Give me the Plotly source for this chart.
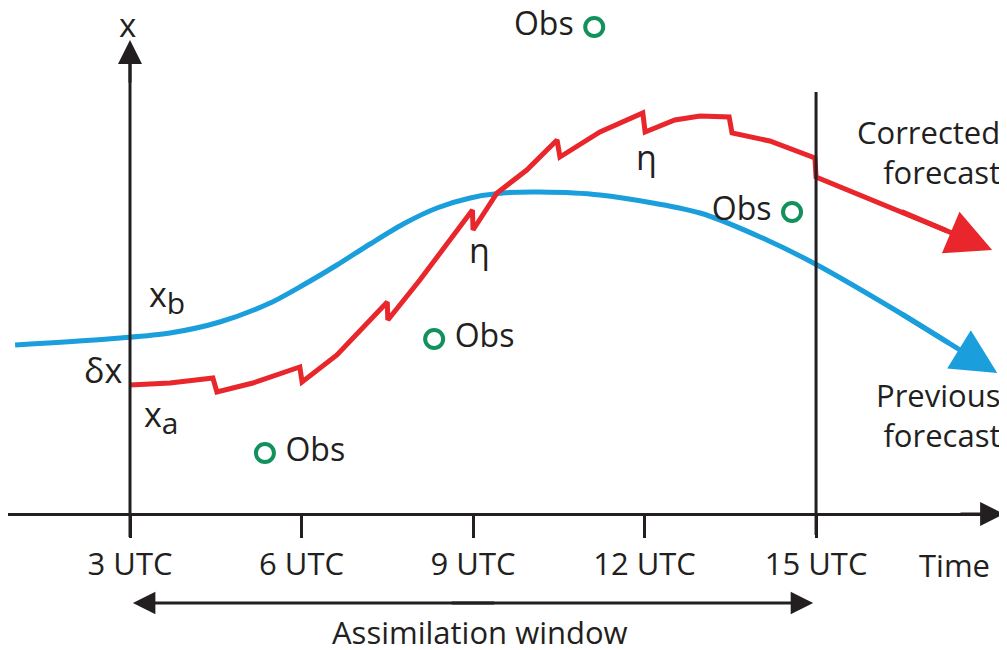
import plotly.graph_objects as go

colors = {
    'ink': '#231f20',
    'red': '#e8262b',
    'blue': '#1b9fdc',
    'green': '#12915c',
    'white': '#ffffff',
}
FONT = 'Open Sans, Noto Sans, sans-serif'

# time in UTC hours, state in arbitrary units
tick_hours = [3, 6, 9, 12, 15]
tick_labels = ['3 UTC', '6 UTC', '9 UTC', '12 UTC', '15 UTC']

prev_t = [0.99, 2.83, 3.70, 4.57, 5.45, 6.03, 6.62, 7.20, 7.78, 8.37, 8.95, 9.52, 10.17,
          11.22, 12.97, 14.14, 15.02, 16.47]
prev_x = [1.69, 1.76, 1.81, 1.92, 2.11, 2.29, 2.49, 2.70, 2.90, 3.06, 3.16, 3.21, 3.22,
          3.19, 3.01, 2.74, 2.49, 2.01]
prev_tip = (18.17, 1.41)

corr_t = [3.0, 3.70, 4.45, 4.52, 5.15, 5.97, 6.01, 6.62, 7.50, 7.51, 8.07, 8.99,
          9.0, 9.42, 9.94, 10.47, 10.52, 11.22, 11.97, 12.01, 12.53, 12.97, 13.48,
          13.53, 14.19, 14.98, 15.0, 16.47]
corr_x = [1.29, 1.31, 1.36, 1.22, 1.31, 1.47, 1.32, 1.59, 2.12, 1.94, 2.34, 3.04,
          2.84, 3.21, 3.44, 3.74, 3.57, 3.82, 4.01, 3.82, 3.94, 3.98, 3.97,
          3.81, 3.73, 3.56, 3.37, 3.03]
corr_tip = (18.08, 2.64)

obs_t = [5.36, 8.32, 11.12, 14.58]
obs_x = [0.61, 1.75, 4.87, 3.02]
obs_side = ['middle right', 'middle right', 'middle left', 'middle left']

t_range = [0.866, 18.34]
x_range = [-1.36, 5.06]


def toward(t, x, tip, frac):
    return t + frac * (tip[0] - t), x + frac * (tip[1] - x)


def main():
    fig = go.Figure()

    # carry each line part way into its arrow head so the head joins cleanly
    bt, bx = toward(prev_t[-1], prev_x[-1], prev_tip, 0.5)
    rt, rx = toward(corr_t[-1], corr_x[-1], corr_tip, 0.5)

    fig.add_trace(go.Scatter(
        x=prev_t + [bt], y=prev_x + [bx], mode='lines',
        line=dict(color=colors['blue'], width=5, shape='spline', smoothing=0.8),
    ))
    fig.add_trace(go.Scatter(
        x=corr_t + [rt], y=corr_x + [rx], mode='lines',
        line=dict(color=colors['red'], width=5),
    ))
    obs_text = ['\u00a0Obs' if s.endswith('right') else 'Obs\u00a0' for s in obs_side]
    fig.add_trace(go.Scatter(
        x=obs_t, y=obs_x, mode='markers+text',
        text=obs_text, textposition=obs_side,
        textfont=dict(family=FONT, size=32, color=colors['ink']),
        marker=dict(symbol='circle-open', size=18, color=colors['green'], line=dict(width=4)),
    ))

    shapes = [
        # vertical state axis at 3 UTC
        dict(type='line', x0=3, x1=3, y0=-0.23, y1=4.5, line=dict(color=colors['ink'], width=3)),
        # end of window at 15 UTC
        dict(type='line', x0=15, x1=15, y0=-0.21, y1=4.22, line=dict(color=colors['ink'], width=3)),
    ]

    arrows = [
        # forecast heads
        dict(x=prev_tip[0], y=prev_tip[1], ax=prev_t[-1], ay=prev_x[-1],
             arrowcolor=colors['blue'], arrowwidth=5, arrowsize=1.8),
        dict(x=corr_tip[0], y=corr_tip[1], ax=corr_t[-1], ay=corr_x[-1],
             arrowcolor=colors['red'], arrowwidth=5, arrowsize=1.8),
        # axes heads
        dict(x=t_range[1] - 0.05, y=0, ax=17.5, ay=0, arrowcolor=colors['ink'], arrowwidth=3, arrowsize=1.6),
        dict(x=3, y=4.74, ax=3, ay=4.3, arrowcolor=colors['ink'], arrowwidth=3, arrowsize=1.6),
        # assimilation window (the two halves overlap in the middle)
        dict(x=3.05, y=-0.89, ax=9.4, ay=-0.89, arrowcolor=colors['ink'], arrowwidth=3, arrowsize=1.5),
        dict(x=14.95, y=-0.89, ax=8.6, ay=-0.89, arrowcolor=colors['ink'], arrowwidth=3, arrowsize=1.5),
    ]
    annotations = []
    for a in arrows:
        a.update(text='', showarrow=True, arrowhead=2, axref='x', ayref='y', xref='x', yref='y')
        annotations.append(a)

    def label(t, x, txt, size=34, xanchor='center', align='center'):
        annotations.append(dict(
            x=t, y=x, text=txt, showarrow=False, xanchor=xanchor, yanchor='middle', align=align,
            font=dict(family=FONT, size=size, color=colors['ink'])
        ))

    sub = '<sub><span style="font-size:30px">{}</span></sub>'
    label(2.95, 4.90, 'x', size=33)
    label(3.64, 2.17, 'x' + sub.format('b'))
    label(2.53, 1.44, 'δx')
    label(3.55, 0.97, 'x' + sub.format('a'))
    label(9.12, 2.64, 'η')
    label(12.04, 3.57, 'η')
    label(18.25, 3.62, 'Corrected<br>forecast', size=31, xanchor='right', align='right')
    label(18.25, 0.99, 'Previous<br>forecast', size=31, xanchor='right', align='right')
    label(17.43, -0.51, 'Time', size=31)
    label(9.12, -1.18, 'Assimilation window', size=31)

    axis_pos = (0 - x_range[0]) / (x_range[1] - x_range[0])

    fig.update_layout(
        width=999, height=642,
        paper_bgcolor=colors['white'], plot_bgcolor=colors['white'],
        showlegend=False,
        margin=dict(l=0, r=0, t=0, b=0),
        shapes=shapes,
        annotations=annotations,
        xaxis=dict(
            range=t_range, showgrid=False, zeroline=False,
            showline=True, linecolor=colors['ink'], linewidth=3,
            ticks='outside', ticklen=22, tickwidth=3, tickcolor=colors['ink'],
            tickvals=tick_hours, ticktext=tick_labels,
            tickfont=dict(family=FONT, size=31, color=colors['ink']),
            ticklabelstandoff=0,
            anchor='free', position=axis_pos,
        ),
        yaxis=dict(range=x_range, showgrid=False, zeroline=False, showticklabels=False),
    )

    fig.write_html('out.html')


if __name__ == '__main__':
    main()
